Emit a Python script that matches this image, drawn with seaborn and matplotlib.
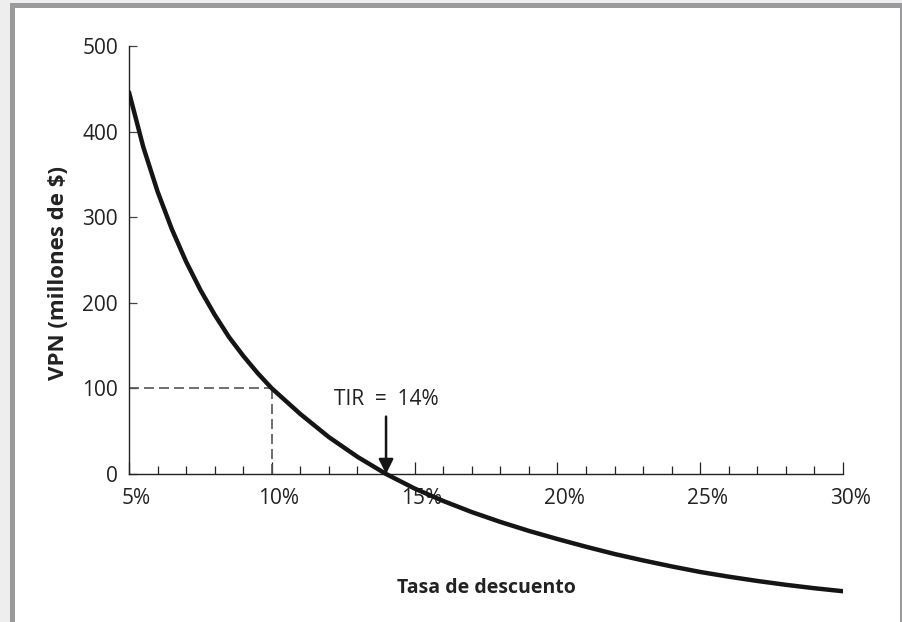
import matplotlib
matplotlib.use("Agg")
from matplotlib import pyplot as plt
from matplotlib.patches import Rectangle
from matplotlib.ticker import MultipleLocator, FixedLocator
import matplotlib.transforms as mtransforms
import seaborn as sns
import pandas as pd

# tasa de descuento (%) y VPN (millones de $)
tasas = [5, 5.5, 6, 6.5, 7, 7.5, 8, 8.5, 9, 9.5, 10, 11, 12, 13, 14, 15,
         16, 17, 18, 19, 20, 21, 22, 23, 24, 25, 26, 27, 28, 29, 30]
vpn = [446, 382, 330, 286, 248, 215, 186, 160, 138, 118, 100, 70, 43, 20,
       0, -17, -31.5, -44.5, -56, -66.5, -76, -85, -93.5, -101, -108,
       -114.5, -120, -125, -129.5, -133.5, -137]
x_ticks = [5, 10, 15, 20, 25, 30]
x_labels = ["5%", "10%", "15%", "20%", "25%", "30%"]
y_ticks = [0, 100, 200, 300, 400, 500]
tir = 14
ref_tasa, ref_vpn = 10, 100

W, H = 902, 622
sns.set_style("white")
plt.rcParams["font.family"] = ["Open Sans", "DejaVu Sans"]

fig = plt.figure(figsize=(W / 100, H / 100), dpi=100)
fig.patch.set_facecolor("#eeeeee")


def px_rect(x0, y0, x1, y1, color):
    """Rectangle in pixel coords (origin top-left)."""
    r = Rectangle((x0 / W, 1 - y1 / H), (x1 - x0) / W, (y1 - y0) / H,
                  transform=fig.transFigure, facecolor=color,
                  edgecolor="none", zorder=-2)
    fig.add_artist(r)


# marco del grafico
px_rect(10, 3, 902, 622, "#9a9a9c")
px_rect(15, 8, 900, 622, "white")

# ejes: 5%..30% -> x 129..843, 500..-140 -> y 46..594
ax = fig.add_axes([129 / W, 1 - 593.8 / H, 714 / W, (593.8 - 46) / H])
ax.set_facecolor("none")

df = pd.DataFrame({"tasa": tasas, "vpn": vpn})
sns.lineplot(data=df, x="tasa", y="vpn", ax=ax, color="#151515", lw=3.2,
             zorder=3)

# lineas de referencia
ax.plot([tasas[0], ref_tasa], [ref_vpn, ref_vpn], color="#555555", lw=1.2,
        ls=(0, (6, 3)), zorder=2)
ax.plot([ref_tasa, ref_tasa], [0, ref_vpn], color="#555555", lw=1.2,
        ls=(0, (6, 3)), zorder=2)

# flecha TIR
ax.annotate("", xy=(tir, 0), xytext=(tir, 67),
            arrowprops=dict(arrowstyle="-|>", color="#151515", lw=1.8,
                            mutation_scale=22, shrinkA=0, shrinkB=0))
ax.text(tir, 81, "TIR  =  14%", ha="center", va="baseline", fontsize=15,
        color="#222222")

ax.set_xlim(5, 30)
ax.set_ylim(-140, 500)
for s in ["top", "right"]:
    ax.spines[s].set_visible(False)
ax.spines["bottom"].set_position(("data", 0))
ax.spines["left"].set_bounds(0, 500)
for s in ["bottom", "left"]:
    ax.spines[s].set_color("#222222")
    ax.spines[s].set_linewidth(1.0)

ax.xaxis.set_major_locator(FixedLocator(x_ticks))
ax.set_xticklabels(x_labels)
ax.xaxis.set_minor_locator(MultipleLocator(1))
ax.set_yticks(y_ticks)
ax.tick_params(bottom=True, left=True, which="both")
ax.tick_params(axis="x", which="major", direction="in", length=8.5,
               width=0.9, color="#222222", labelsize=15, pad=10,
               labelcolor="#222222")
ax.tick_params(axis="x", which="minor", direction="in", length=5.5,
               width=0.9, color="#222222")
ax.tick_params(axis="y", direction="in", length=5.5, width=0.9,
               color="#444444", labelsize=15, pad=8, labelcolor="#222222")
off = mtransforms.ScaledTranslation(0.07, 0, fig.dpi_scale_trans)
for lab in ax.get_xticklabels():
    lab.set_transform(lab.get_transform() + off)
ax.set_xlabel("")
ax.set_ylabel("")

fig.text(58 / W, 1 - 273 / H, "VPN (millones de $)", rotation=90,
         ha="center", va="center", fontsize=16, fontweight="bold",
         color="#222222")
fig.text(486 / W, 1 - 593 / H, "Tasa de descuento", ha="center",
         va="baseline", fontsize=14, fontweight="bold", color="#222222")

fig.savefig("out.png", dpi=100)
